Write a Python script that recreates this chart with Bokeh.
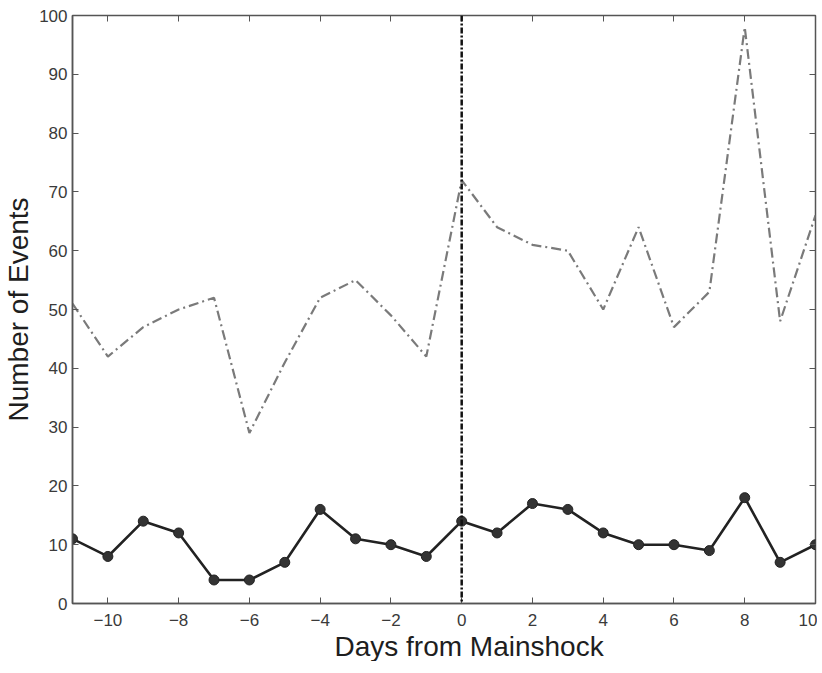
from bokeh.plotting import figure
from bokeh.models import Range1d, FixedTicker, LinearAxis, Span, Title
from bokeh.embed import file_html
from bokeh.resources import INLINE

days = list(range(-11, 11))
local_events = [11, 8, 14, 12, 4, 4, 7, 16, 11, 10, 8, 14, 12, 17, 16, 12, 10, 10, 9, 18, 7, 10]
regional_events = [51, 42, 47, 50, 52, 29, 41, 52, 55, 49, 42, 72, 64, 61, 60, 50, 64, 47, 53, 98, 48, 66]
mainshock_day = 0
x_ticks = [-10, -8, -6, -4, -2, 0, 2, 4, 6, 8, 10]
x_tick_labels = ["\u221210", "\u22128", "\u22126", "\u22124", "\u22122", "0", "2", "4", "6", "8", "10"]
y_ticks = [0, 10, 20, 30, 40, 50, 60, 70, 80, 90, 100]
x_label = "Days from Mainshock"
y_label = "Number of Events"

FONT = "Liberation Sans"

p = figure(frame_width=743, frame_height=588, output_backend="svg", toolbar_location=None,
           x_range=Range1d(-11, 10), y_range=Range1d(0, 100),
           min_border_left=72, min_border_right=2, min_border_top=15, min_border_bottom=0)
p.grid.visible = False
p.outline_line_color = "#555555"
p.outline_line_width = 1.5

for ax in (p.xaxis[0], p.yaxis[0]):
    ax.major_tick_in = 6
    ax.major_tick_out = 0
    ax.minor_tick_line_color = None
    ax.axis_line_color = "#555555"
    ax.axis_line_width = 1.5
    ax.major_tick_line_color = "#555555"
    ax.major_label_text_font = FONT
    ax.major_label_text_font_size = "17px"
    ax.major_label_text_color = "#3a3a3a"
    ax.axis_label_text_font = FONT
    ax.axis_label_text_font_size = "28px"
    ax.axis_label_text_font_style = "normal"
    ax.axis_label_text_color = "#1e1e1e"

p.xaxis[0].ticker = FixedTicker(ticks=x_ticks)
p.xaxis[0].major_label_overrides = dict(zip(x_ticks, x_tick_labels))
p.yaxis[0].ticker = FixedTicker(ticks=y_ticks)
p.yaxis[0].axis_label = y_label
p.xaxis[0].major_label_standoff = 10
p.yaxis[0].major_label_standoff = 5
p.yaxis[0].axis_label_standoff = 2

top = LinearAxis(ticker=FixedTicker(ticks=x_ticks),
                 major_label_overrides={t: "" for t in x_ticks},
                 major_label_standoff=0, major_tick_in=6, major_tick_out=0,
                 minor_tick_line_color=None, axis_line_color=None, major_tick_line_color="#555555")
right = LinearAxis(ticker=FixedTicker(ticks=y_ticks),
                   major_label_overrides={t: "" for t in y_ticks},
                   major_label_standoff=0, major_tick_in=6, major_tick_out=0,
                   minor_tick_line_color=None, axis_line_color=None, major_tick_line_color="#555555")
p.add_layout(top, "above")
p.add_layout(right, "right")

p.add_layout(Title(text=x_label, align="left", offset=255, standoff=0, padding=(7, 0, 0, 0),
                   text_font=FONT, text_font_size="28px", text_font_style="normal",
                   text_color="#1e1e1e"), "below")

p.line(days, regional_events, line_color="#7a7a7a", line_width=2.2, line_dash="10 4 2 4")
p.add_layout(Span(location=mainshock_day, dimension="height", line_color="#111111",
                  line_width=2.5, line_dash="6 2 2 2"))
p.line(days, local_events, line_color="#222222", line_width=2.6)
p.scatter(days, local_events, size=10, fill_color="#333333", line_color="#222222")

open("out.html", "w").write(file_html(p, INLINE))
